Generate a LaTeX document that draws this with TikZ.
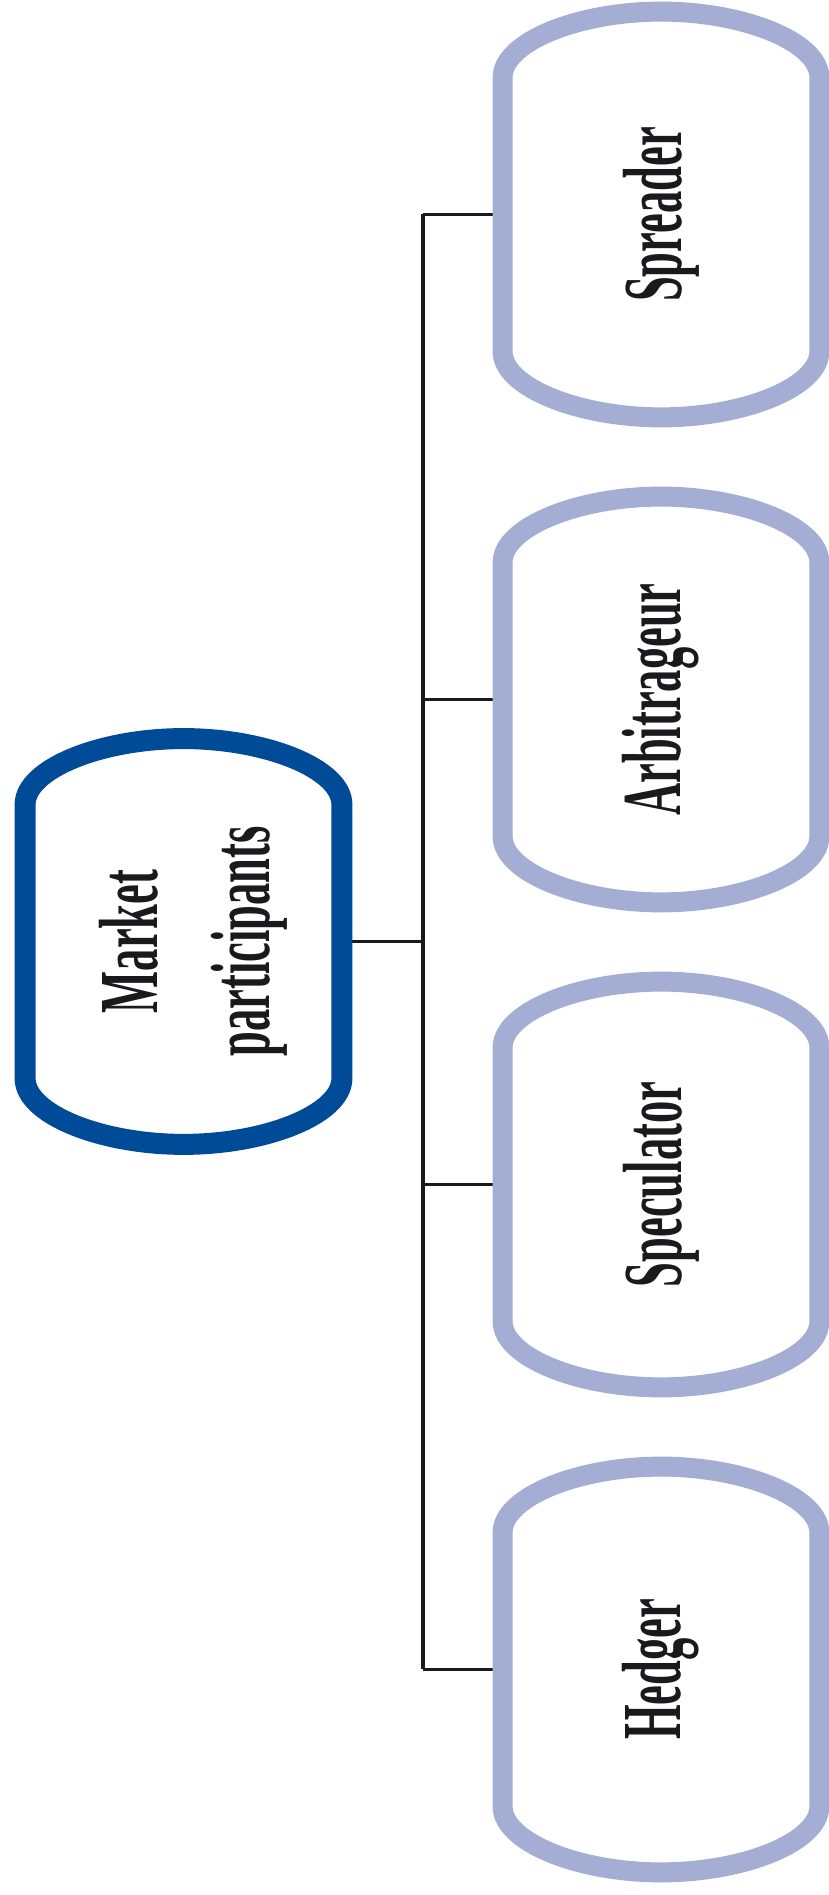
\documentclass[tikz,border=0pt]{standalone}
\usepackage{fontspec}
\setmainfont{Liberation Serif}
\usepackage{graphicx}
\usepackage{tikz}

\definecolor{darkblue}{RGB}{0,75,152}
\definecolor{paleblue}{RGB}{164,173,212}
\definecolor{inkgray}{RGB}{26,26,30}

% squeeze a word along its reading direction
\newcommand\narrow[1]{\scalebox{0.53}[1]{#1}}

% arched frame around a node: straight sides, curved top and bottom
\newcommand\capframe[2]{%
  \draw[#2] (#1.north)
    .. controls ([xshift=-41pt]#1.north) and ([yshift=-15pt]#1.north west) .. ([yshift=-33pt]#1.north west)
    -- ([yshift=33pt]#1.south west)
    .. controls ([yshift=15pt]#1.south west) and ([xshift=-41pt]#1.south) .. (#1.south)
    .. controls ([xshift=41pt]#1.south) and ([yshift=15pt]#1.south east) .. ([yshift=33pt]#1.south east)
    -- ([yshift=-33pt]#1.north east)
    .. controls ([yshift=-15pt]#1.north east) and ([xshift=41pt]#1.north) .. (#1.north)
    -- cycle;}

\begin{document}
\begin{tikzpicture}[x=0.5pt,y=0.5pt,
  every node/.style={font=\bfseries\fontsize{42}{56}\selectfont, text=inkgray},
  slot/.style={minimum width=158pt, minimum height=202.5pt, inner sep=0pt},
  word/.style={rotate=90, align=center, inner sep=0pt},
  rootline/.style={draw=darkblue, line width=10.5pt},
  leafline/.style={draw=paleblue, line width=10pt},
  spine/.style={draw=inkgray, line width=2.3pt},
  twig/.style={draw=inkgray, line width=1.6pt}]
\useasboundingbox[fill=white] (0,0) rectangle (829,1895);

\node[slot] (root) at (183.5,953.5) {};
\node[slot] (spreader) at (661,1680.5) {};
\node[slot] (arbitrageur) at (661,1195.5) {};
\node[slot] (speculator) at (661,710.5) {};
\node[slot] (hedger) at (661,225.5) {};
\coordinate (spine) at (423,953.5);

% connectors
\draw[twig] (root.east) -- (root.east -| spine);
\draw[spine] (spreader.west -| spine) -- (hedger.west -| spine);
\foreach \n in {spreader,arbitrageur,speculator,hedger}
  \draw[twig] (\n.west -| spine) -- (\n.west);

% frames
\capframe{root}{rootline}
\foreach \n in {spreader,arbitrageur,speculator,hedger}{\capframe{\n}{leafline}}

\node[word] (root-t) at ([xshift=5pt]root.center) {\narrow{Market}\\\narrow{participants}};
\node[word] (spreader-t) at (spreader) {\narrow{Spreader}};
\node[word] (arbitrageur-t) at (arbitrageur) {\narrow{Arbitrageur}};
\node[word] (speculator-t) at (speculator) {\narrow{Speculator}};
\node[word] (hedger-t) at (hedger) {\narrow{Hedger}};
\end{tikzpicture}
\end{document}
